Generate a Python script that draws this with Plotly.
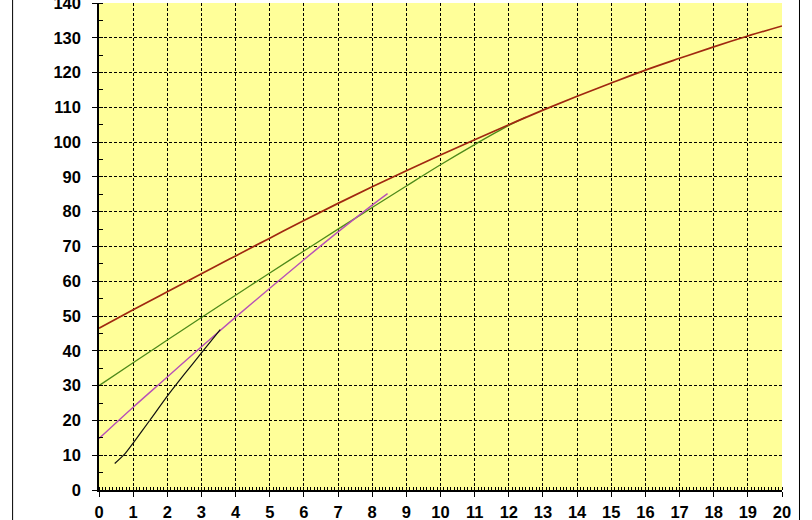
import plotly.graph_objects as go

# Data
red_x = [0, 1, 2, 3, 4, 5, 6, 7, 8, 9, 10, 11, 12, 13, 14, 15, 16, 17, 18, 19, 20]
red_y = [46.5, 51.8, 57.0, 62.2, 67.3, 72.4, 77.5, 82.4, 87.2, 91.8, 96.3, 100.7,
         105.0, 109.2, 113.2, 117.0, 120.7, 124.1, 127.4, 130.5, 133.4]

green_x = [0, 1, 2, 3, 4, 5, 6, 7, 8, 9, 10, 11, 12, 12.5]
green_y = [30.0, 36.6, 43.1, 49.6, 56.0, 62.4, 68.7, 75.0, 81.2, 87.4, 93.5, 99.3, 104.8, 107.2]

magenta_x = [0, 1, 2, 3, 4, 5, 6, 7, 8, 8.45]
magenta_y = [14.8, 23.8, 32.5, 41.2, 49.7, 58.0, 66.2, 74.2, 81.9, 85.2]

black_x = [0.46, 0.75, 1.0, 1.5, 2.0, 2.5, 3.0, 3.55]
black_y = [7.6, 10.3, 13.5, 20.2, 27.0, 33.3, 39.4, 46.1]

x_ticks = list(range(0, 21))
y_ticks = list(range(0, 141, 10))

fig = go.Figure()
fig.add_trace(go.Scatter(x=green_x, y=green_y, mode="lines",
                         line=dict(color="#4E8A1A", width=1.3, shape="spline")))
fig.add_trace(go.Scatter(x=red_x, y=red_y, mode="lines",
                         line=dict(color="#A02810", width=1.7, shape="spline")))
fig.add_trace(go.Scatter(x=magenta_x, y=magenta_y, mode="lines",
                         line=dict(color="#B850B8", width=1.4, shape="spline")))
fig.add_trace(go.Scatter(x=black_x, y=black_y, mode="lines",
                         line=dict(color="#111111", width=1.2, shape="spline", smoothing=0.6)))

tickfont = dict(family="Liberation Sans, Arial, sans-serif", size=16.5, color="black", weight="bold")

fig.update_layout(
    width=812, height=520,
    margin=dict(l=98.5, r=29.5, t=3, b=29.5, pad=0),
    paper_bgcolor="white",
    plot_bgcolor="#FFFF99",
    showlegend=False,
    xaxis=dict(
        range=[0, 20], tickvals=x_ticks, ticktext=[str(v) for v in x_ticks],
        automargin=False, ticklabeloverflow="allow",
        showgrid=True, gridcolor="black", gridwidth=1, griddash="3px,2px",
        zeroline=False, showline=True, linecolor="black", linewidth=1.5,
        ticks="outside", ticklen=5, tickcolor="black", tickwidth=1,
        tickfont=tickfont, ticklabelstandoff=1,
        minor=dict(dtick=0.1, ticks="inside", ticklen=3, tickcolor="black", showgrid=False),
    ),
    yaxis=dict(
        range=[0, 140], tickvals=y_ticks, ticktext=[str(v) for v in y_ticks],
        automargin=False, ticklabeloverflow="allow",
        showgrid=True, gridcolor="black", gridwidth=1, griddash="3px,2px",
        zeroline=False, showline=True, linecolor="black", linewidth=1.5,
        ticks="outside", ticklen=5, tickcolor="black", tickwidth=1,
        tickfont=tickfont, ticklabelstandoff=8,
        minor=dict(dtick=5, ticks="inside", ticklen=4, tickcolor="black", showgrid=False),
    ),
    shapes=[dict(type="rect", xref="paper", yref="paper",
                 x0=-0.1265, x1=1.0256, y0=-0.3, y1=1.3,
                 line=dict(color="black", width=1), fillcolor="rgba(0,0,0,0)", layer="below")],
)

fig.write_html("out.html", config={"displayModeBar": False},
               post_script="document.body.style.margin='0';document.body.style.overflow='hidden';")
